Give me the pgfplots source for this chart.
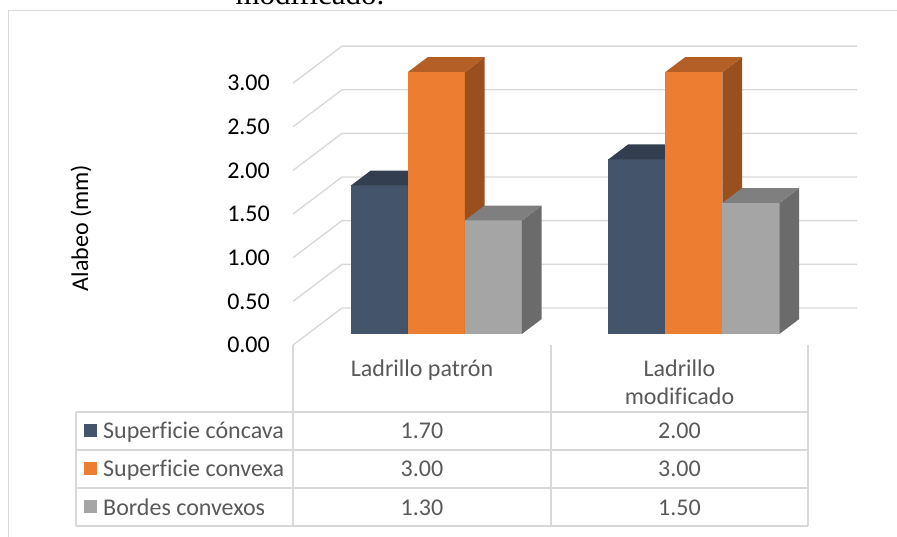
\documentclass[border=0pt]{standalone}
\usepackage{fontspec}
\setmainfont{Carlito}[Ligatures=CommonOff]
\newfontfamily\titlefont{Liberation Serif}[Ligatures=CommonOff]
\usepackage{pgfplots}
\pgfplotsset{compat=1.18}

% series colours: front face, top face, right side face
\definecolor{concava}{HTML}{44546A}
\definecolor{concavaTop}{HTML}{333F50}
\definecolor{concavaSide}{HTML}{2C3745}
\definecolor{convexa}{HTML}{ED7D31}
\definecolor{convexaTop}{HTML}{B45F26}
\definecolor{convexaSide}{HTML}{9A4F1F}
\definecolor{bordes}{HTML}{A5A5A5}
\definecolor{bordesTop}{HTML}{7F7F7F}
\definecolor{bordesSide}{HTML}{6B6B6B}
\definecolor{gridgray}{HTML}{D9D9D9}
\definecolor{txtgray}{HTML}{595959}

% Alabeo (mm)
\newcommand\patronConcava{1.70}
\newcommand\patronConvexa{3.00}
\newcommand\patronBordes{1.30}
\newcommand\modifConcava{2.00}
\newcommand\modifConvexa{3.00}
\newcommand\modifBordes{1.50}

\newcommand\chartfont{\fontsize{24bp}{28bp}\selectfont}

% one 3D bar: #1 left x, #2 value, #3 front, #4 side, #5 top colour
\newcommand\cuboid[5]{%
  \pgfmathsetmacro\xa{#1}%
  \pgfmathsetmacro\xb{#1+0.2214}%
  \edef\doit{%
    \noexpand\addplot3[draw=none,fill=#3] coordinates
      {(\xa,0.3,0) (\xb,0.3,0) (\xb,0.3,#2) (\xa,0.3,#2)};
    \noexpand\addplot3[draw=none,fill=#4] coordinates
      {(\xb,0.3,0) (\xb,0.7,0) (\xb,0.7,#2) (\xb,0.3,#2)};
    \noexpand\addplot3[draw=none,fill=#5] coordinates
      {(\xa,0.3,#2) (\xb,0.3,#2) (\xb,0.7,#2) (\xa,0.7,#2)};
  }%
  \doit
}

\begin{document}
\begin{tikzpicture}
% outer frame and the caption line above it
\draw[gridgray, line width=1.5bp] (8.5bp,-5bp) -- (8.5bp,526.5bp) -- (905bp,526.5bp);
\node[anchor=base, font=\titlefont\fontsize{31bp}{36bp}\selectfont] at (310bp,532bp) {modificado.};

\begin{axis}[
  hide axis, clip=false,
  x={(257.5bp,0bp)}, y={(49bp,37bp)}, z={(0bp,87.3bp)},
  xmin=0, xmax=2.5, ymin=0, ymax=1, zmin=0, zmax=3,
  anchor=origin, at={(164.25bp,192bp)},
]
% side and back walls
\pgfplotsinvokeforeach{0,0.5,1,1.5,2,2.5,3}{
  \draw[gridgray, line width=1.4bp] (axis cs:0.5,0,#1) -- (axis cs:0.5,1,#1) -- (axis cs:2.5,1,#1);
  \node[anchor=east, font=\chartfont, inner sep=0pt, xshift=-23bp] at (axis cs:0.5,0,#1)
    {\pgfmathprintnumber[assume math mode=true,fixed,fixed zerofill,precision=2]{#1}};
}
% Ladrillo patrón
\cuboid{0.668}{\patronConcava}{concava}{concavaSide}{concavaTop}
\cuboid{0.8894}{\patronConvexa}{convexa}{convexaSide}{convexaTop}
\cuboid{1.1108}{\patronBordes}{bordes}{bordesSide}{bordesTop}
% Ladrillo modificado
\cuboid{1.668}{\modifConcava}{concava}{concavaSide}{concavaTop}
\cuboid{1.8894}{\modifConvexa}{convexa}{convexaSide}{convexaTop}
\cuboid{2.1108}{\modifBordes}{bordes}{bordesSide}{bordesTop}
\end{axis}

% axis title
\node[rotate=90, font=\chartfont] at (81bp,309bp) {Alabeo (mm)};

% data table
\begin{scope}[gridgray, line width=1.5bp]
  \foreach \y in {125,87,49,11} \draw (76bp,\y bp) -- (808bp,\y bp);
  \draw (76bp,125bp) -- (76bp,11bp);
  \foreach \x in {293,551,808} \draw (\x bp,192bp) -- (\x bp,11bp);
\end{scope}
\begin{scope}[font=\chartfont, text=txtgray, inner sep=0pt]
  \node[anchor=base] at (422bp,160bp) {Ladrillo patrón};
  \node[anchor=base] at (679.5bp,160bp) {Ladrillo};
  \node[anchor=base] at (679.5bp,132bp) {modificado};
  \fill[concava] (84bp,99.5bp) rectangle (97bp,112.5bp);
  \fill[convexa] (84bp,61.5bp) rectangle (97bp,74.5bp);
  \fill[bordes]  (84bp,23.5bp) rectangle (97bp,36.5bp);
  \node[anchor=base west] at (103bp,98bp) {Superficie cóncava};
  \node[anchor=base west] at (103bp,60bp) {Superficie convexa};
  \node[anchor=base west] at (103bp,22bp) {Bordes convexos};
  \node[anchor=base] at (422bp,98bp) {\patronConcava};
  \node[anchor=base] at (679.5bp,98bp) {\modifConcava};
  \node[anchor=base] at (422bp,60bp) {\patronConvexa};
  \node[anchor=base] at (679.5bp,60bp) {\modifConvexa};
  \node[anchor=base] at (422bp,22bp) {\patronBordes};
  \node[anchor=base] at (679.5bp,22bp) {\modifBordes};
\end{scope}

\pgfresetboundingbox
\path[use as bounding box] (0bp,0bp) rectangle (897bp,537bp);
\end{tikzpicture}
\end{document}
